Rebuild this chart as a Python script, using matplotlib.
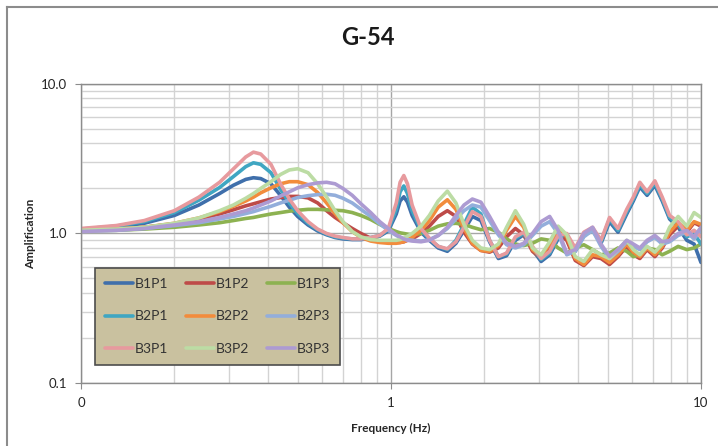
import matplotlib
matplotlib.use("Agg")
import matplotlib.pyplot as plt
from matplotlib.lines import Line2D

plt.rcParams['font.family'] = ['Lato', 'DejaVu Sans']

# frequency grid (Hz)
freq = [0.10, 0.13, 0.16, 0.20, 0.24, 0.28, 0.31, 0.34, 0.36, 0.38,
        0.41, 0.44, 0.47, 0.50, 0.54, 0.58, 0.62, 0.66, 0.70, 0.75,
        0.80, 0.86, 0.92, 0.98, 1.04, 1.07, 1.10, 1.13, 1.17, 1.25,
        1.33, 1.42, 1.52, 1.62, 1.72, 1.83, 1.95, 2.08, 2.22, 2.36,
        2.52, 2.68, 2.86, 3.05, 3.25, 3.46, 3.69, 3.93, 4.19, 4.47,
        4.76, 5.07, 5.40, 5.76, 6.05, 6.35, 6.70, 7.10, 7.50, 7.92,
        8.44, 9.00, 9.50, 10.0]

# amplification
b1p1 = [1.06, 1.10, 1.17, 1.32, 1.55, 1.85, 2.10, 2.30, 2.36, 2.33,
        2.15, 1.80, 1.50, 1.30, 1.14, 1.04, 0.98, 0.94, 0.92, 0.91,
        0.91, 0.93, 0.96, 1.04, 1.35, 1.65, 1.76, 1.62, 1.32, 1.02,
        0.90, 0.80, 0.76, 0.86, 1.05, 1.30, 1.22, 0.88, 0.68, 0.71,
        0.90, 0.98, 0.78, 0.65, 0.72, 0.92, 0.95, 0.76, 0.97, 1.05,
        0.86, 1.20, 1.02, 1.35, 1.65, 2.05, 1.80, 2.10, 1.65, 1.25,
        1.10, 0.90, 0.85, 0.64]
b1p2 = [1.05, 1.07, 1.10, 1.16, 1.25, 1.35, 1.44, 1.53, 1.58, 1.63,
        1.70, 1.74, 1.77, 1.77, 1.73, 1.60, 1.42, 1.28, 1.18, 1.08,
        1.00, 0.93, 0.89, 0.87, 0.87, 0.87, 0.88, 0.90, 0.92, 1.00,
        1.12, 1.30, 1.42, 1.30, 1.02, 0.85, 0.77, 0.75, 0.80, 0.95,
        1.08, 0.98, 0.76, 0.68, 0.80, 1.00, 0.90, 0.66, 0.61, 0.70,
        0.68, 0.62, 0.70, 0.82, 0.72, 0.68, 0.78, 0.70, 0.80, 0.98,
        1.12, 1.02, 1.18, 1.12]
b1p3 = [1.04, 1.05, 1.07, 1.10, 1.14, 1.18, 1.22, 1.26, 1.28, 1.31,
        1.35, 1.38, 1.41, 1.43, 1.45, 1.45, 1.44, 1.43, 1.42, 1.38,
        1.32, 1.24, 1.15, 1.08, 1.03, 1.01, 1.00, 0.99, 0.98, 1.00,
        1.05, 1.12, 1.16, 1.17, 1.15, 1.10, 1.06, 1.08, 1.02, 0.92,
        0.85, 0.83, 0.86, 0.92, 0.90, 0.80, 0.74, 0.80, 0.84, 0.78,
        0.72, 0.74, 0.80, 0.76, 0.70, 0.72, 0.80, 0.78, 0.72, 0.76,
        0.82, 0.78, 0.80, 0.85]
b2p1 = [1.07, 1.12, 1.20, 1.38, 1.67, 2.03, 2.40, 2.80, 2.97, 2.90,
        2.55, 1.98, 1.60, 1.36, 1.17, 1.06, 0.99, 0.95, 0.93, 0.92,
        0.92, 0.94, 0.97, 1.06, 1.45, 1.90, 2.08, 1.85, 1.42, 1.05,
        0.92, 0.82, 0.78, 0.90, 1.15, 1.50, 1.35, 0.90, 0.70, 0.73,
        0.93, 1.00, 0.80, 0.67, 0.74, 0.95, 0.98, 0.78, 1.00, 1.08,
        0.88, 1.25, 1.05, 1.40, 1.70, 2.12, 1.85, 2.17, 1.70, 1.28,
        1.15, 0.95, 1.00, 0.85]
b2p2 = [1.05, 1.07, 1.10, 1.17, 1.27, 1.40, 1.52, 1.65, 1.75, 1.87,
        2.02, 2.15, 2.22, 2.22, 2.12, 1.88, 1.60, 1.36, 1.18, 1.03,
        0.94, 0.89, 0.87, 0.86, 0.86, 0.87, 0.88, 0.91, 0.94, 1.05,
        1.22, 1.50, 1.68, 1.45, 1.08, 0.86, 0.77, 0.76, 0.83, 1.05,
        1.30, 1.10, 0.78, 0.70, 0.85, 1.08, 0.95, 0.68, 0.62, 0.72,
        0.70, 0.64, 0.72, 0.85, 0.75, 0.70, 0.80, 0.72, 0.82, 1.02,
        1.18, 1.05, 1.20, 1.15]
b2p3 = [1.04, 1.05, 1.08, 1.13, 1.18, 1.25, 1.30, 1.36, 1.40, 1.45,
        1.52, 1.60, 1.67, 1.74, 1.79, 1.82, 1.83, 1.80, 1.72, 1.60,
        1.45, 1.30, 1.16, 1.05, 0.97, 0.94, 0.92, 0.91, 0.90, 0.89,
        0.91, 0.97, 1.08, 1.25, 1.42, 1.55, 1.50, 1.22, 0.98, 0.84,
        0.80, 0.84, 0.97, 1.12, 1.20, 1.00, 0.72, 0.76, 0.95, 1.05,
        0.82, 0.68, 0.76, 0.88, 0.82, 0.78, 0.88, 0.94, 0.85, 0.88,
        0.97, 1.02, 0.92, 1.05]
b3p1 = [1.08, 1.13, 1.22, 1.42, 1.75, 2.20, 2.70, 3.25, 3.50, 3.40,
        2.90, 2.15, 1.70, 1.42, 1.20, 1.07, 1.00, 0.96, 0.94, 0.92,
        0.92, 0.94, 0.97, 1.08, 1.60, 2.20, 2.44, 2.15, 1.55, 1.08,
        0.93, 0.82, 0.79, 0.88, 1.10, 1.40, 1.30, 0.90, 0.70, 0.74,
        0.95, 1.02, 0.82, 0.68, 0.76, 0.97, 1.00, 0.80, 1.02, 1.10,
        0.90, 1.28, 1.08, 1.45, 1.75, 2.20, 1.90, 2.25, 1.75, 1.32,
        1.20, 0.98, 1.05, 0.95]
b3p2 = [1.05, 1.07, 1.10, 1.17, 1.27, 1.42, 1.55, 1.72, 1.85, 2.00,
        2.22, 2.48, 2.66, 2.71, 2.55, 2.15, 1.75, 1.42, 1.20, 1.03,
        0.95, 0.91, 0.90, 0.90, 0.90, 0.91, 0.93, 0.96, 1.00, 1.12,
        1.32, 1.65, 1.92, 1.60, 1.15, 0.90, 0.80, 0.78, 0.85, 1.10,
        1.42, 1.15, 0.80, 0.72, 0.88, 1.12, 0.98, 0.70, 0.65, 0.78,
        0.72, 0.68, 0.78, 0.90, 0.78, 0.72, 0.82, 0.75, 0.85, 1.10,
        1.30, 1.12, 1.38, 1.28]
b3p3 = [1.03, 1.05, 1.08, 1.14, 1.20, 1.28, 1.35, 1.42, 1.48, 1.55,
        1.65, 1.78, 1.90, 2.02, 2.12, 2.18, 2.20, 2.15, 2.00, 1.80,
        1.58, 1.38, 1.20, 1.08, 0.98, 0.95, 0.92, 0.90, 0.89, 0.88,
        0.90, 0.97, 1.10, 1.32, 1.55, 1.70, 1.62, 1.30, 1.02, 0.86,
        0.82, 0.86, 1.00, 1.20, 1.30, 1.05, 0.74, 0.78, 1.00, 1.10,
        0.85, 0.70, 0.78, 0.90, 0.85, 0.80, 0.90, 0.97, 0.88, 0.90,
        1.00, 1.05, 0.95, 1.10]

series = [
    ('B1P1', b1p1, '#3f6fab'),
    ('B1P2', b1p2, '#be4b48'),
    ('B1P3', b1p3, '#8db251'),
    ('B2P1', b2p1, '#3fa6c2'),
    ('B2P2', b2p2, '#f28c3c'),
    ('B2P3', b2p3, '#93aedb'),
    ('B3P1', b3p1, '#e79a9e'),
    ('B3P2', b3p2, '#bcdca4'),
    ('B3P3', b3p3, '#ad9bd2'),
]

fig = plt.figure(figsize=(7.18, 4.46), dpi=100)
ax = fig.add_axes([0.1128, 0.1413, 0.8635, 0.6704])

handles = {}
for name, vals, col in series:
    ln, = ax.plot(freq, vals, color=col, lw=2.6, solid_capstyle='round',
                  solid_joinstyle='round')
    handles[name] = ln

ax.set_xscale('log')
ax.set_yscale('log')
ax.set_xlim(0.1, 10)
ax.set_ylim(0.1, 10)

ax.set_xticks([0.1, 1, 10])
ax.set_xticklabels(['0', '1', '10'])
ax.set_yticks([0.1, 1, 10])
ax.set_yticklabels(['0.1', '1.0', '10.0'])
ax.tick_params(which='major', length=4, color='#8c8c8c', labelsize=9.5,
               labelcolor='#262626', pad=6)
ax.tick_params(which='minor', length=0)

ax.grid(which='major', color='#a6a6a6', lw=1.0)
ax.grid(which='minor', color='#d3d3d3', lw=1.0)
ax.set_axisbelow(True)
for sp in ax.spines.values():
    sp.set_color('#8c8c8c')
    sp.set_linewidth(1.0)

ax.set_xlabel('Frequency (Hz)', fontsize=8.5, fontweight='bold', color='#262626', labelpad=10)
ax.set_ylabel('Amplification', fontsize=8.5, fontweight='bold', color='#262626')
ax.yaxis.set_label_coords(-0.072, 0.5)

order = ['B1P1', 'B2P1', 'B3P1', 'B1P2', 'B2P2', 'B3P2', 'B1P3', 'B2P3', 'B3P3']
leg = ax.legend([handles[n] for n in order], order, ncol=3, loc='lower left',
                bbox_to_anchor=(0.023, 0.06, 0.395, 0.341), mode='expand',
                fontsize=10, fancybox=False, framealpha=1, borderaxespad=0,
                handlelength=2.0, handletextpad=0.15, labelspacing=1.5,
                columnspacing=0.6, borderpad=0.7)
leg.get_frame().set_facecolor('#c9c19f')
leg.get_frame().set_edgecolor('#4d4d4d')
leg.get_frame().set_linewidth(1.2)
for t in leg.get_texts():
    t.set_color('#333333')

fig.text(0.5125, 0.915, 'G-54', ha='center', va='center', fontsize=17, fontweight='bold',
         color='#1a1a1a')

# chart area border (left and top edges)
fig.add_artist(Line2D([7 / 718, 7 / 718], [0, 1 - 7 / 446], transform=fig.transFigure,
                      color='#8c8c8c', lw=1.5))
fig.add_artist(Line2D([7 / 718, 1], [1 - 7 / 446, 1 - 7 / 446], transform=fig.transFigure,
                      color='#8c8c8c', lw=1.5))

fig.savefig('out.png', dpi=100)
